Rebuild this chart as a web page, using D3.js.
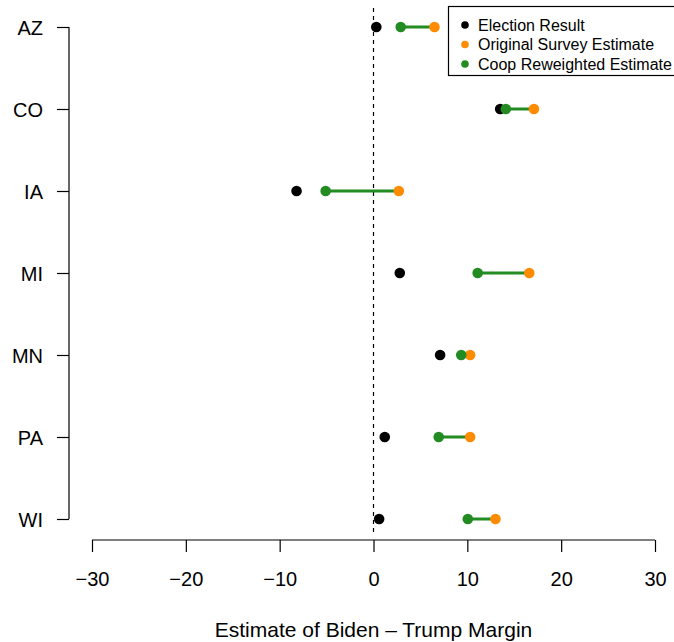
<!DOCTYPE html>
<html>
<head>
<meta charset="utf-8">
<script src="https://cdn.jsdelivr.net/npm/d3@7"></script>
<style>
  html, body { margin: 0; padding: 0; background: #fff; }
  text { font-family: "Liberation Sans", Arial, sans-serif; }
</style>
</head>
<body>
<svg id="chart" width="674" height="642"></svg>
<script>
// State-level Biden - Trump margins
const states = ["AZ", "CO", "IA", "MI", "MN", "PA", "WI"];
const electionResult = [0.3, 13.5, -8.2, 2.8, 7.1, 1.2, 0.6];
const originalEstimate = [6.5, 17.1, 2.7, 16.6, 10.3, 10.3, 13.0];
const reweightedEstimate = [2.9, 14.1, -5.1, 11.1, 9.35, 6.95, 10.05];
const xTicks = [-30, -20, -10, 0, 10, 20, 30];

const legendItems = [
  { label: "Election Result", color: "#000000" },
  { label: "Original Survey Estimate", color: "#FF8C00" },
  { label: "Coop Reweighted Estimate", color: "#228B22" }
];

const svg = d3.select("#chart");

const x = d3.scaleLinear().domain([-30, 30]).range([92, 655]);
const y = d3.scalePoint().domain(states).range([27, 519]);

const rows = states.map((s, i) => ({
  state: s,
  result: electionResult[i],
  original: originalEstimate[i],
  coop: reweightedEstimate[i]
}));

// x axis
const xAxis = svg.append("g")
  .attr("transform", "translate(0,540)")
  .call(d3.axisBottom(x).tickValues(xTicks).tickSize(12).tickPadding(20)
    .tickFormat(d => d < 0 ? "\u2212" + Math.abs(d) : String(d)));
xAxis.select(".domain").attr("stroke", "#000").attr("stroke-width", 1.2)
  .attr("d", `M${x(-30)},0H${x(30)}`);
xAxis.selectAll(".tick line").attr("stroke", "#000").attr("stroke-width", 1.2);
xAxis.selectAll(".tick text").attr("font-size", 20).attr("fill", "#000");

// y axis
const yAxis = svg.append("g")
  .attr("transform", "translate(69,0)")
  .call(d3.axisLeft(y).tickSize(12).tickPadding(14));
yAxis.select(".domain").attr("stroke", "#000").attr("stroke-width", 1.2)
  .attr("d", `M0,${y("AZ")}V${y("WI")}`);
yAxis.selectAll(".tick line").attr("stroke", "#000").attr("stroke-width", 1.2);
yAxis.selectAll(".tick text").attr("font-size", 20).attr("fill", "#000")
  .attr("dy", "0.35em");

// x axis title
svg.append("text")
  .attr("x", x(0))
  .attr("y", 637)
  .attr("text-anchor", "middle")
  .attr("font-size", 21)
  .text("Estimate of Biden \u2013 Trump Margin");

// zero reference line
svg.append("line")
  .attr("x1", x(0)).attr("x2", x(0))
  .attr("y1", 8).attr("y2", 536)
  .attr("stroke", "#000")
  .attr("stroke-width", 1.2)
  .attr("stroke-dasharray", "4,4");

// segments from reweighted to original estimate
svg.append("g").selectAll("line")
  .data(rows).join("line")
  .attr("x1", d => x(d.coop)).attr("x2", d => x(d.original))
  .attr("y1", d => y(d.state)).attr("y2", d => y(d.state))
  .attr("stroke", "#228B22")
  .attr("stroke-width", 3);

const r = 5.3;
svg.append("g").selectAll("circle")
  .data(rows).join("circle")
  .attr("cx", d => x(d.result)).attr("cy", d => y(d.state))
  .attr("r", r).attr("fill", "#000");

svg.append("g").selectAll("circle")
  .data(rows).join("circle")
  .attr("cx", d => x(d.original)).attr("cy", d => y(d.state))
  .attr("r", r).attr("fill", "#FF8C00");

svg.append("g").selectAll("circle")
  .data(rows).join("circle")
  .attr("cx", d => x(d.coop)).attr("cy", d => y(d.state))
  .attr("r", r).attr("fill", "#228B22");

// legend
const legend = svg.append("g");
legend.append("rect")
  .attr("x", 448.5).attr("y", 6.5)
  .attr("width", 240).attr("height", 69)
  .attr("fill", "#fff")
  .attr("stroke", "#000")
  .attr("stroke-width", 1.2);

const li = legend.selectAll("g.item")
  .data(legendItems).join("g")
  .attr("class", "item")
  .attr("transform", (d, i) => `translate(0,${25 + i * 19.5})`);
li.append("circle")
  .attr("cx", 465).attr("cy", 0).attr("r", 3.8)
  .attr("fill", d => d.color);
li.append("text")
  .attr("x", 478).attr("y", 0).attr("dy", "0.35em")
  .attr("font-size", 16)
  .text(d => d.label);
</script>
</body>
</html>
